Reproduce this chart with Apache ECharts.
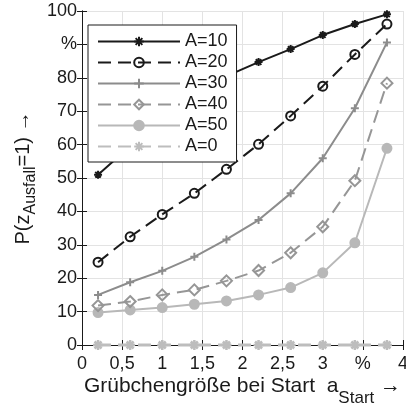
<!DOCTYPE html>
<html>
<head>
<meta charset="utf-8">
<script src="https://cdn.jsdelivr.net/npm/echarts@6/dist/echarts.min.js"></script>
<style>
  html, body { margin: 0; padding: 0; background: #fff; }
  #chart { width: 406px; height: 406px; }
</style>
</head>
<body>
<div id="chart"></div>
<script>
// Pit size at start (x) and failure probability in percent for each A
var startSizes = [0.2, 0.6, 1.0, 1.4, 1.8, 2.2, 2.6, 3.0, 3.4, 3.8];
var seriesNames = ['A=10', 'A=20', 'A=30', 'A=40', 'A=50', 'A=0'];
var pA10 = [51, 59.5, 67, 74, 80.5, 84.7, 88.6, 92.8, 96.1, 99];
var pA20 = [24.8, 32.4, 39.1, 45.4, 52.6, 60.1, 68.6, 77.5, 87.0, 96.1];
var pA30 = [15.0, 18.8, 22.2, 26.4, 31.6, 37.4, 45.4, 55.9, 70.9, 90.6];
var pA40 = [11.8, 13.0, 15.0, 16.5, 19.2, 22.3, 27.6, 35.4, 49.2, 78.4];
var pA50 = [9.7, 10.5, 11.2, 12.2, 13.2, 15.0, 17.2, 21.6, 30.6, 58.9];
var pA0 = [0, 0, 0, 0, 0, 0, 0, 0, 0, 0];

// Tick labels: the second to last tick on each axis shows the unit
var xTickLabels = { 0: '0', 0.5: '0,5', 1: '1', 1.5: '1,5', 2: '2', 2.5: '2,5', 3: '3', 3.5: '%', 4: '4' };
var yTickLabels = { 0: '0', 10: '10', 20: '20', 30: '30', 40: '40', 50: '50', 60: '60', 70: '70', 80: '80', 90: '%', 100: '100' };

var FONT = '"Liberation Sans", Arial, Helvetica, sans-serif';

// Marker outlines (stroke only)
var ASTERISK = 'path://M5 0L5 10M0 5L10 5M1.5 1.5L8.5 8.5M8.5 1.5L1.5 8.5';
var PLUS = 'path://M5 0L5 10M0 5L10 5';

function pairs(values) {
  return startSizes.map(function (x, i) { return [x, values[i]]; });
}

function lineSeries(name, values, cfg) {
  return {
    name: name,
    type: 'line',
    data: pairs(values),
    clip: false,
    symbol: cfg.symbol,
    symbolSize: cfg.size,
    showAllSymbol: true,
    z: cfg.z || 2,
    lineStyle: { color: cfg.color, width: cfg.width || 2, type: cfg.dash || 'solid' },
    itemStyle: {
      color: cfg.fill || 'transparent',
      borderColor: cfg.color,
      borderWidth: cfg.border || 2
    },
    emphasis: { disabled: true },
    animation: false
  };
}

var chart = echarts.init(document.getElementById('chart'), null, { renderer: 'canvas' });

var axisCommon = {
  type: 'value',
  axisLine: { show: true, lineStyle: { color: '#1a1a1a', width: 1 } },
  axisTick: { show: true, inside: true, length: 5, lineStyle: { color: '#1a1a1a', width: 1 } }
};

chart.setOption({
  animation: false,
  backgroundColor: '#ffffff',
  grid: { left: 82, top: 11, right: 3, bottom: 61, containLabel: false, outerBoundsMode: 'none' },
  legend: {
    data: seriesNames,
    orient: 'vertical',
    left: 88,
    top: 25,
    z: 20,
    itemWidth: 82,
    itemHeight: 12,
    itemGap: 2,
    padding: [7, 9, 6, 9],
    backgroundColor: '#ffffff',
    borderColor: '#1a1a1a',
    borderWidth: 1,
    borderRadius: 0,
    textStyle: { fontFamily: FONT, fontSize: 18, color: '#1a1a1a', lineHeight: 19 },
    selectedMode: false
  },
  xAxis: [
    Object.assign({}, axisCommon, {
      min: 0, max: 4, interval: 0.5,
      position: 'bottom',
      splitLine: { show: true, lineStyle: { color: '#e3e3e3', width: 1 } },
      axisLabel: {
        margin: 10,
        fontFamily: FONT, fontSize: 18, color: '#1a1a1a',
        formatter: function (v) { return xTickLabels[v] !== undefined ? xTickLabels[v] : ''; }
      },
      name: '{n|Grübchengröße bei Start  a}{s|Start}{n| →}',
      nameLocation: 'middle',
      nameGap: 30,
      nameMoveOverlap: false,
      nameTextStyle: {
        rich: {
          n: { fontFamily: FONT, fontSize: 21, color: '#1a1a1a', lineHeight: 22 },
          s: { fontFamily: FONT, fontSize: 17, color: '#1a1a1a', lineHeight: 18, padding: [24, 0, 0, 0] }
        }
      }
    }),
    Object.assign({}, axisCommon, {
      min: 0, max: 4, interval: 0.5,
      position: 'top',
      splitLine: { show: false },
      axisLabel: { show: false }
    })
  ],
  yAxis: [
    Object.assign({}, axisCommon, {
      min: 0, max: 100, interval: 10,
      position: 'left',
      splitLine: { show: true, lineStyle: { color: '#e3e3e3', width: 1 } },
      axisLabel: {
        margin: 5,
        fontFamily: FONT, fontSize: 18, color: '#1a1a1a',
        formatter: function (v) { return yTickLabels[v] !== undefined ? yTickLabels[v] : ''; }
      },
      name: '{n|P(z}{s|Ausfall}{n|=1) →}',
      nameLocation: 'middle',
      nameRotate: 90,
      nameGap: 48,
      nameMoveOverlap: false,
      nameTextStyle: {
        rich: {
          n: { fontFamily: FONT, fontSize: 20, color: '#1a1a1a', lineHeight: 22 },
          s: { fontFamily: FONT, fontSize: 16, color: '#1a1a1a', lineHeight: 18, padding: [16, 0, 0, 0] }
        }
      }
    }),
    Object.assign({}, axisCommon, {
      min: 0, max: 100, interval: 10,
      position: 'right',
      splitLine: { show: false },
      axisLabel: { show: false }
    })
  ],
  series: [
    lineSeries('A=10', pA10, { color: '#1a1a1a', symbol: ASTERISK, size: 8, z: 6 }),
    lineSeries('A=20', pA20, { color: '#1a1a1a', symbol: 'circle', size: 9, dash: [13, 7], z: 5 }),
    lineSeries('A=30', pA30, { color: '#8c8c8c', symbol: PLUS, size: 8, z: 4 }),
    lineSeries('A=40', pA40, { color: '#969696', symbol: 'diamond', size: 11, dash: [13, 7], z: 3 }),
    lineSeries('A=50', pA50, { color: '#b8b8b8', symbol: 'circle', size: 9, fill: '#b8b8b8', z: 2 }),
    lineSeries('A=0', pA0, { color: '#bdbdbd', symbol: ASTERISK, size: 10, dash: [13, 7], width: 3, border: 2.5, z: 7 })
  ]
});
</script>
</body>
</html>
